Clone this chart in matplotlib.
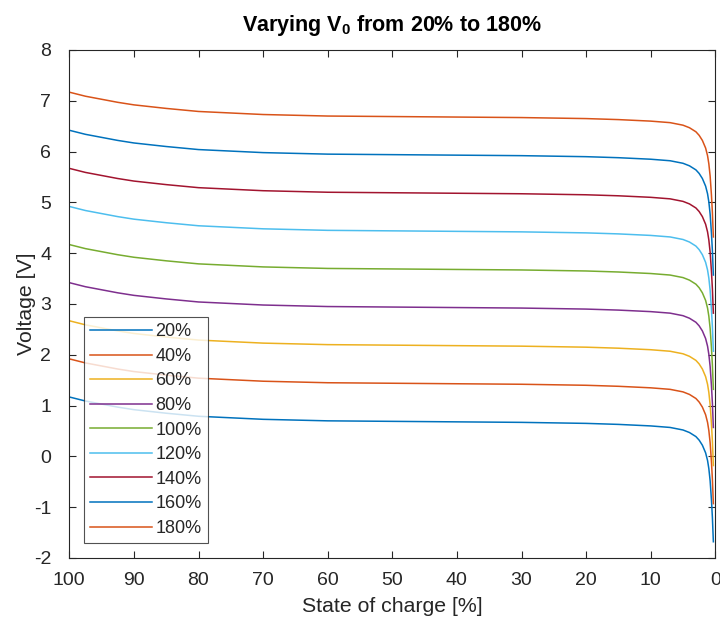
import matplotlib
matplotlib.use("Agg")
import matplotlib.pyplot as plt

plt.rcParams['font.family'] = ['Liberation Sans', 'DejaVu Sans']
plt.rcParams['mathtext.fontset'] = 'custom'
plt.rcParams['mathtext.bf'] = 'Liberation Sans:bold'
plt.rcParams['mathtext.rm'] = 'Liberation Sans'
plt.rcParams['axes.unicode_minus'] = False

# State of charge sample points [%]
soc = [100, 97.5, 95, 92.5, 90, 85, 80, 75, 70, 60, 50, 40, 30, 20, 15, 10,
       7, 5, 4, 3, 2.5, 2, 1.5, 1.2, 1.0, 0.8, 0.6, 0.45, 0.3]

labels = ['20%', '40%', '60%', '80%', '100%', '120%', '140%', '160%', '180%']

v_20 = [1.17, 1.09, 1.03, 0.97, 0.92, 0.85, 0.79, 0.76, 0.73, 0.70, 0.69, 0.68, 0.67, 0.65, 0.63, 0.60,
        0.57, 0.52, 0.47, 0.39, 0.32, 0.22, 0.07, -0.08, -0.24, -0.48, -0.85, -1.20, -1.68]
v_40 = [1.92, 1.84, 1.78, 1.72, 1.67, 1.60, 1.54, 1.51, 1.48, 1.45, 1.44, 1.43, 1.42, 1.40, 1.38, 1.35,
        1.32, 1.27, 1.22, 1.14, 1.07, 0.97, 0.82, 0.67, 0.51, 0.27, -0.10, -0.45, -0.93]
v_60 = [2.67, 2.59, 2.53, 2.47, 2.42, 2.35, 2.29, 2.26, 2.23, 2.20, 2.19, 2.18, 2.17, 2.15, 2.13, 2.10,
        2.07, 2.02, 1.97, 1.89, 1.82, 1.72, 1.57, 1.42, 1.26, 1.02, 0.65, 0.30, -0.18]
v_80 = [3.42, 3.34, 3.28, 3.22, 3.17, 3.10, 3.04, 3.01, 2.98, 2.95, 2.94, 2.93, 2.92, 2.90, 2.88, 2.85,
        2.82, 2.77, 2.72, 2.64, 2.57, 2.47, 2.32, 2.17, 2.01, 1.77, 1.40, 1.05, 0.57]
v_100 = [4.17, 4.09, 4.03, 3.97, 3.92, 3.85, 3.79, 3.76, 3.73, 3.70, 3.69, 3.68, 3.67, 3.65, 3.63, 3.60,
         3.57, 3.52, 3.47, 3.39, 3.32, 3.22, 3.07, 2.92, 2.76, 2.52, 2.15, 1.80, 1.32]
v_120 = [4.92, 4.84, 4.78, 4.72, 4.67, 4.60, 4.54, 4.51, 4.48, 4.45, 4.44, 4.43, 4.42, 4.40, 4.38, 4.35,
         4.32, 4.27, 4.22, 4.14, 4.07, 3.97, 3.82, 3.67, 3.51, 3.27, 2.90, 2.55, 2.07]
v_140 = [5.67, 5.59, 5.53, 5.47, 5.42, 5.35, 5.29, 5.26, 5.23, 5.20, 5.19, 5.18, 5.17, 5.15, 5.13, 5.10,
         5.07, 5.02, 4.97, 4.89, 4.82, 4.72, 4.57, 4.42, 4.26, 4.02, 3.65, 3.30, 2.82]
v_160 = [6.42, 6.34, 6.28, 6.22, 6.17, 6.10, 6.04, 6.01, 5.98, 5.95, 5.94, 5.93, 5.92, 5.90, 5.88, 5.85,
         5.82, 5.77, 5.72, 5.64, 5.57, 5.47, 5.32, 5.17, 5.01, 4.77, 4.40, 4.05, 3.57]
v_180 = [7.17, 7.09, 7.03, 6.97, 6.92, 6.85, 6.79, 6.76, 6.73, 6.70, 6.69, 6.68, 6.67, 6.65, 6.63, 6.60,
         6.57, 6.52, 6.47, 6.39, 6.32, 6.22, 6.07, 5.92, 5.76, 5.52, 5.15, 4.80, 4.32]

series = [v_20, v_40, v_60, v_80, v_100, v_120, v_140, v_160, v_180]
colors = ['#0072BD', '#D95319', '#EDB120', '#7E2F8E', '#77AC30',
          '#4DBEEE', '#A2142F', '#0072BD', '#D95319']

axis_color = '#262626'

fig = plt.figure(figsize=(7.2, 6.24), dpi=100)
ax = fig.add_axes([69.3 / 720, 1 - 558 / 624, 646 / 720, 508 / 624])

for vals, lab, col in zip(series, labels, colors):
    ax.plot(soc, vals, color=col, lw=1.1, label=lab)

ax.set_xlim(100, 0)
ax.set_ylim(-2, 8)
ax.set_xticks(range(100, -1, -10))
ax.set_yticks(range(-2, 9))

ax.tick_params(direction='in', length=5, width=0.8, top=True, right=True,
               labelsize=14, colors=axis_color)
ax.tick_params(axis='x', pad=10)
ax.tick_params(axis='y', pad=13)
for sp in ax.spines.values():
    sp.set_color(axis_color)
    sp.set_linewidth(0.8)

ax.set_xlabel('State of charge [%]', fontsize=15.3, color=axis_color, labelpad=6)
ax.set_ylabel('Voltage [V]', fontsize=15.3, color=axis_color)
ax.yaxis.set_label_coords(-0.052, 0.5)
ax.set_title(r'Varying V$_\mathbf{0}$ from 20% to 180%', fontsize=15.5,
             fontweight='bold', color='black', pad=14)

leg = ax.legend(loc='lower left', bbox_to_anchor=(0.023, 0.029), fontsize=13,
                frameon=True, fancybox=False, edgecolor=axis_color,
                handlelength=3.4, handletextpad=0.2, labelspacing=0.42,
                borderpad=0.35, borderaxespad=0)
leg.get_frame().set_linewidth(0.8)
for t in leg.get_texts():
    t.set_color(axis_color)

fig.savefig('out.png', dpi=100)
